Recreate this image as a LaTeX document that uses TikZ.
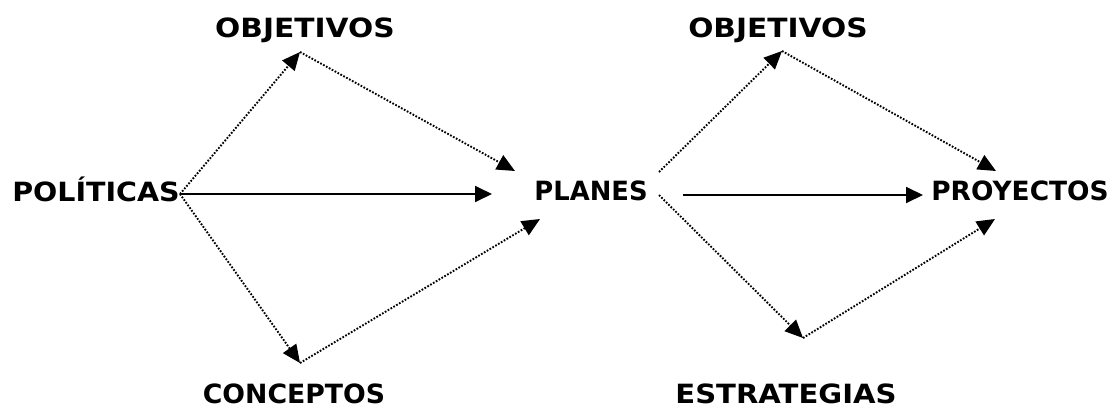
\documentclass[tikz,border=0pt]{standalone}
\usepackage{fontspec}
\setmainfont{DejaVu Sans}[FakeStretch=1.12]
\usetikzlibrary{arrows.meta}
\tikzset{
  lbl/.style={font=\bfseries\fontsize{26.5}{26.5}\selectfont, anchor=base, inner sep=0pt},
  solidarrow/.style={line width=1.8pt, -{Triangle[length=17pt,width=16pt]}},
  dotarrow/.style={line width=1.9pt, dash pattern=on 1.7pt off 1.6pt, -{Triangle[length=18pt,width=16pt]}}
}
\begin{document}
\begin{tikzpicture}[x=1pt,y=-1pt]
\useasboundingbox (0,0) rectangle (1111,410);
% labels
\node[lbl] (obj1) at (305,37) {OBJETIVOS};
\node[lbl] (pol) at (96,201) {\scalebox{0.96}[1]{POLÍTICAS}};
\node[lbl] (plan) at (591,200) {\scalebox{0.87}[1]{PLANES}};
\node[lbl] (conc) at (294,403) {\scalebox{0.9}[1]{CONCEPTOS}};
\node[lbl] (obj2) at (778,37) {OBJETIVOS};
\node[lbl] (proy) at (1020,200) {\scalebox{0.89}[1]{PROYECTOS}};
\node[lbl] (estr) at (786,403) {\scalebox{0.98}[1]{ESTRATEGIAS}};
% connector points
\coordinate (polout) at (180,194);
\coordinate (obj1pt) at (300,52);
\coordinate (concpt) at (300,363);
\coordinate (planintop) at (515,171);
\coordinate (planinmid) at (492,194);
\coordinate (planinbot) at (540,219);
\coordinate (planouttop) at (659,172);
\coordinate (planoutmid) at (683,195);
\coordinate (planoutbot) at (659,195);
\coordinate (obj2pt) at (782,51);
\coordinate (estrpt) at (803,338);
\coordinate (proyintop) at (996,171);
\coordinate (proyinmid) at (923,195);
\coordinate (proyinbot) at (995,219);
% left group
\draw[solidarrow] (polout) -- (planinmid);
\draw[dotarrow] (polout) -- (obj1pt);
\draw[dotarrow] (obj1pt) -- (planintop);
\draw[dotarrow] (polout) -- (concpt);
\draw[dotarrow] (concpt) -- (planinbot);
% right group
\draw[solidarrow] (planoutmid) -- (proyinmid);
\draw[dotarrow] (planouttop) -- (obj2pt);
\draw[dotarrow] (obj2pt) -- (proyintop);
\draw[dotarrow] (planoutbot) -- (estrpt);
\draw[dotarrow] (estrpt) -- (proyinbot);
\end{tikzpicture}
\end{document}
